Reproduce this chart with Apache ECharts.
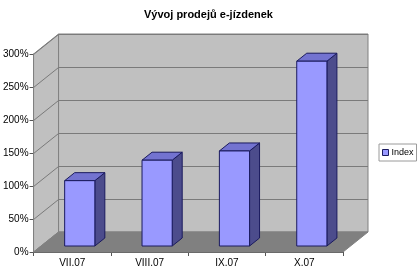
<!DOCTYPE html>
<html><head><meta charset="utf-8">
<script src="https://cdn.jsdelivr.net/npm/echarts@6/dist/echarts.min.js"></script>
<style>html,body{margin:0;padding:0;background:#fff}#c{width:420px;height:274px}</style>
</head><body><div id="c"></div>
<script>
var categories = ['VII.07', 'VIII.07', 'IX.07', 'X.07'];
var indexValues = [99, 130, 144, 280];
var yTicks = [0, 50, 100, 150, 200, 250, 300];
var seriesName = 'Index';
var titleText = 'Vývoj prodejů e-jízdenek';

var DX = 25, DY = 20;

function renderWalls(params, api) {
  var cs = params.coordSys;
  var x0 = cs.x, x1 = cs.x + cs.width, yT = cs.y, yB = cs.y + cs.height;
  var ch = [];
  ch.push({type: 'polygon', shape: {points: [[x0, yT], [x0 + DX, yT - DY], [x0 + DX, yB - DY], [x0, yB]]},
    style: {fill: '#c0c0c0', stroke: '#808080', lineWidth: 1}});
  ch.push({type: 'rect', shape: {x: x0 + DX, y: yT - DY, width: cs.width, height: cs.height},
    style: {fill: '#c0c0c0', stroke: '#808080', lineWidth: 1}});
  ch.push({type: 'polygon', shape: {points: [[x0, yB], [x0 + DX, yB - DY], [x1 + DX, yB - DY], [x1, yB]]},
    style: {fill: '#808080', stroke: '#808080', lineWidth: 1}});
  for (var k = 1; k < yTicks.length; k++) {
    var y = Math.round(api.coord([0, yTicks[k]])[1]) + 0.5;
    ch.push({type: 'polyline', shape: {points: [[x0, y], [x0 + DX, y - DY], [x1 + DX, y - DY]]},
      style: {stroke: '#7a7a7a', lineWidth: 1, fill: null}});
  }
  return {type: 'group', children: ch};
}

function renderBar(params, api) {
  var i = api.value(0), v = api.value(1);
  var base = api.coord([i, 0]), top = api.coord([i, v]);
  var bw = api.size([1, 0])[0] * 0.39;
  var fx = 0.3 * DX, fy = 0.3 * DY, dx = 0.4 * DX, dy = 0.4 * DY;
  var l = base[0] - bw / 2 + fx, r = l + bw, b = base[1] - fy, t = top[1] - fy;
  var st = {stroke: '#1a1a5e', lineWidth: 1};
  return {type: 'group', children: [
    {type: 'polygon', shape: {points: [[r, t], [r + dx, t - dy], [r + dx, b - dy], [r, b]]},
      style: Object.assign({fill: '#4c4c8c'}, st)},
    {type: 'polygon', shape: {points: [[l, t], [r, t], [r + dx, t - dy], [l + dx, t - dy]]},
      style: Object.assign({fill: '#7373d0'}, st)},
    {type: 'rect', shape: {x: l, y: t, width: bw, height: b - t},
      style: Object.assign({fill: '#9999ff'}, st)}
  ]};
}

var chart = echarts.init(document.getElementById('c'), null, {renderer: 'canvas'});
chart.setOption({
  animation: false,
  backgroundColor: '#fff',
  textStyle: {fontFamily: 'Liberation Sans, Arial, sans-serif'},
  title: {
    text: titleText, left: 139, top: 4,
    textStyle: {fontSize: 11, fontWeight: 'bold', color: '#000', fontFamily: 'Liberation Sans, Arial, sans-serif'}
  },
  legend: {
    data: [{name: seriesName, icon: 'rect'}],
    left: 379, top: 144,
    padding: [4, 3, 4, 3],
    itemWidth: 6, itemHeight: 6, itemGap: 3,
    itemStyle: {color: '#9999ff', borderColor: '#1a1a5e', borderWidth: 1},
    borderColor: '#9a9a9a', borderWidth: 1, backgroundColor: '#fff',
    textStyle: {fontSize: 9, color: '#000', padding: [0, 0, 0, -2]}
  },
  grid: {left: 33, right: 77, top: 54, bottom: 22},
  xAxis: {
    type: 'category', data: categories, boundaryGap: true,
    axisLine: {lineStyle: {color: '#555', width: 1}},
    axisTick: {show: true, length: 4, lineStyle: {color: '#555'}},
    axisLabel: {fontSize: 10, color: '#000', margin: 6}
  },
  yAxis: {
    type: 'value', min: 0, max: 300, interval: 50,
    axisLine: {show: true, lineStyle: {color: '#555', width: 1}},
    axisTick: {show: true, length: 4, lineStyle: {color: '#555'}},
    splitLine: {show: false},
    axisLabel: {formatter: '{value}%', fontSize: 10, color: '#000', margin: 5}
  },
  series: [
    {type: 'custom', name: '_walls', renderItem: renderWalls, data: [[0, 0]], silent: true, z: 1, legendHoverLink: false},
    {type: 'custom', name: seriesName, renderItem: renderBar, z: 2,
      itemStyle: {color: '#9999ff', borderColor: '#1a1a5e', borderWidth: 1},
      data: indexValues.map(function (v, i) { return [i, v]; })}
  ]
});
</script>
</body></html>
